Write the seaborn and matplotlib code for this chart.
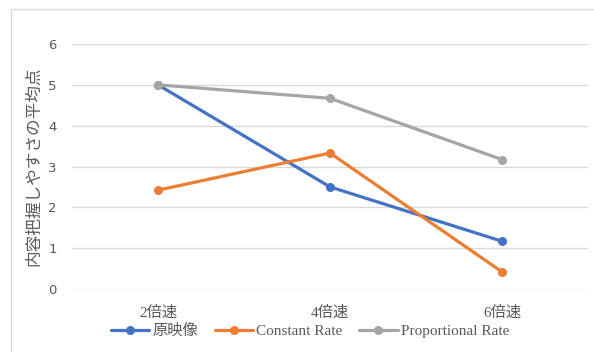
import matplotlib
matplotlib.use("Agg")
import matplotlib.pyplot as plt
import seaborn as sns
import pandas as pd
from matplotlib.patches import Rectangle

speeds = ["2倍速", "4倍速", "6倍速"]
series_names = ["原映像", "Constant Rate", "Proportional Rate"]
original = [5.0, 2.5, 1.17]
constant_rate = [2.42, 3.33, 0.42]
proportional_rate = [5.0, 4.67, 3.17]
y_ticks = [0, 1, 2, 3, 4, 5, 6]
y_label = "内容把握しやすさの平均点"

colors = ["#4472C4", "#ED7D31", "#A5A5A5"]

sns.set_theme(style="white")
plt.rcParams["font.family"] = ["Liberation Serif", "Noto Sans CJK JP", "DejaVu Sans"]

rows = []
for name, vals in zip(series_names, [original, constant_rate, proportional_rate]):
    for s, v in zip(speeds, vals):
        rows.append({"speed": s, "score": v, "series": name})
df = pd.DataFrame(rows)

fig = plt.figure(figsize=(5.94, 3.52), dpi=100)
ax = fig.add_axes([72 / 594, 1 - 289 / 352, (588 - 72) / 594, (289 - 44) / 352])

# outer chart frame
fig.patches.append(Rectangle((11 / 594, -0.05), 1.2, 1 - 9 / 352 + 0.05,
                             transform=fig.transFigure, fill=False,
                             edgecolor="#D9D9D9", linewidth=1.0, zorder=0))

sns.lineplot(data=df, x="speed", y="score", hue="series", hue_order=series_names,
             palette=colors, marker="o", markersize=6.5, markeredgewidth=0,
             linewidth=2.3, ax=ax, sort=False, legend=False)

ax.set_xlim(-0.5, 2.5)
ax.set_ylim(0, 6)
ax.set_yticks(y_ticks)
ax.yaxis.grid(True, color="#D9D9D9", linewidth=1.0)
ax.set_axisbelow(True)
for sp in ax.spines.values():
    sp.set_visible(False)
ax.tick_params(axis="both", length=0, colors="#595959")
ax.tick_params(axis="y", labelsize=10.5, pad=11)
ax.tick_params(axis="x", labelsize=11, pad=12)
for lab in ax.get_yticklabels():
    lab.set_family(["DejaVu Sans"])
    lab.set_fontsize(9.5)
ax.set_xlabel("")
ax.set_ylabel(y_label, color="#595959", fontsize=12, labelpad=4,
              family=["Noto Sans CJK JP", "DejaVu Sans"])

handles = [plt.Line2D([], [], color=c, linewidth=2.3, marker="o", markersize=6.5,
                      markeredgewidth=0) for c in colors]
leg = fig.legend(handles, series_names, loc="center", bbox_to_anchor=(0.522, 1 - 331 / 352),
                 ncol=3, frameon=False, fontsize=11, handlelength=2.5,
                 handletextpad=0.2, columnspacing=1.1, labelcolor="#595959")

fig.savefig("out.png", dpi=100)
